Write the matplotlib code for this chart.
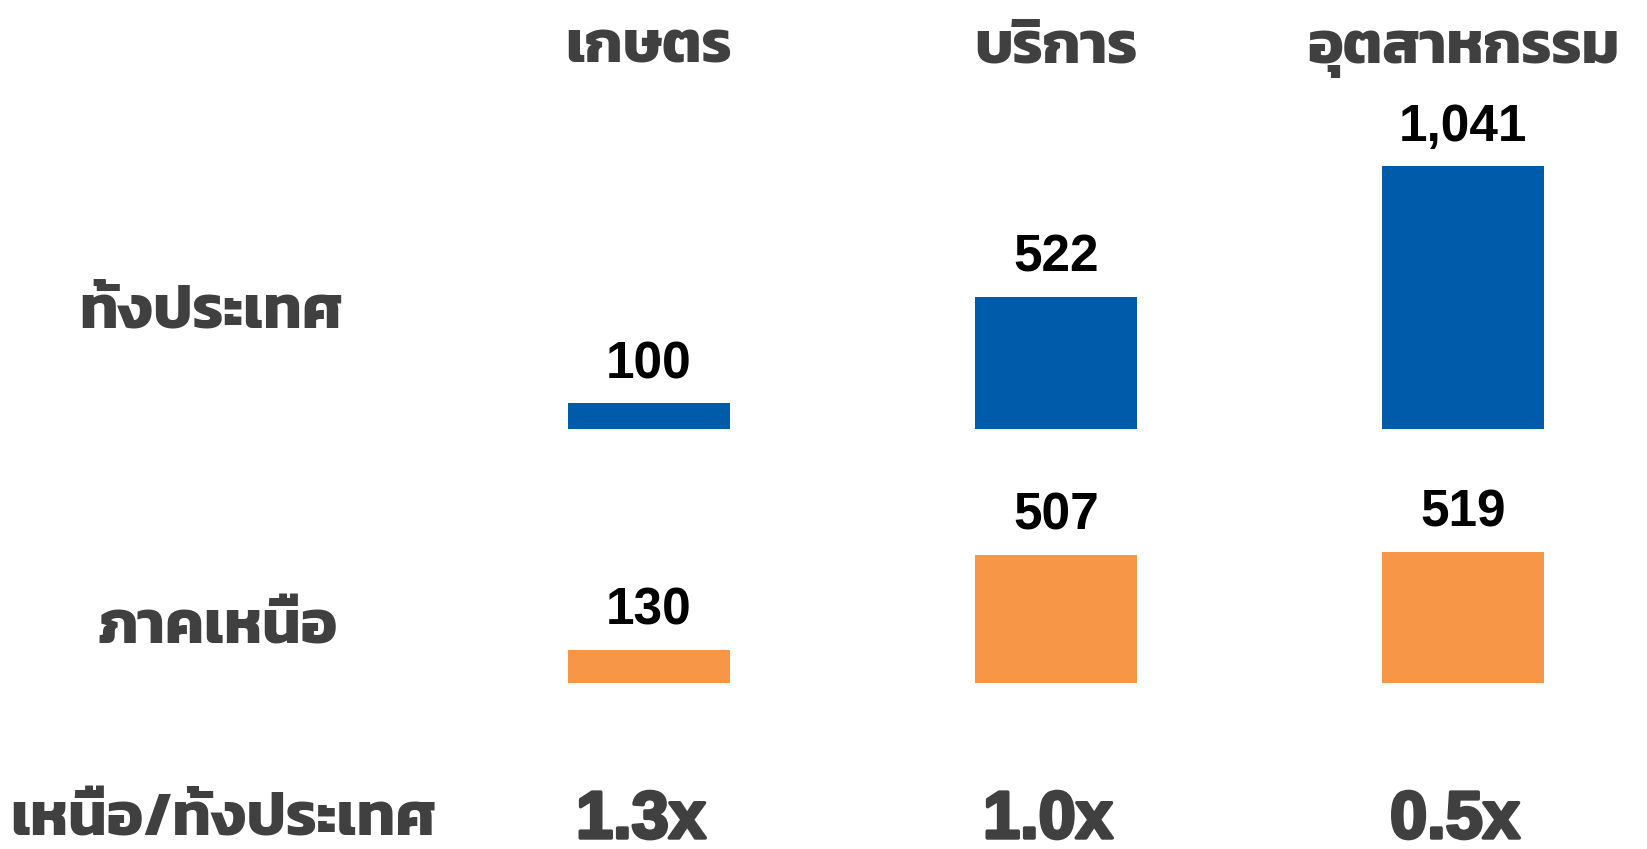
import matplotlib
matplotlib.use("Agg")
import matplotlib.pyplot as plt
import matplotlib.transforms as mtransforms
import matplotlib.patheffects as pe
from matplotlib.font_manager import FontProperties
import numpy as np

sectors = ["เกษตร", "บริการ", "อุตสาหกรรม"]
whole_country = [100, 522, 1041]
north = [130, 507, 519]
ratios = ["1.3x", "1.0x", "0.5x"]
row_labels = ["ทั้งประเทศ", "ภาคเหนือ", "เหนือ/ทั้งประเทศ"]

BLUE = "#005BAA"
ORANGE = "#F79646"
GREY = "#404040"
THAI = ["Kanit", "DejaVu Sans"]
NUM = ["Liberation Sans", "DejaVu Sans"]

x = np.arange(len(sectors))

fig = plt.figure(figsize=(16.47, 8.49), dpi=100)
ax_top = fig.add_axes([0.2705, 0.4952, 0.7166, 0.3273])
ax_bot = fig.add_axes([0.2705, 0.1958, 0.7166, 0.3273])

for ax, vals, col in [(ax_top, whole_country, BLUE), (ax_bot, north, ORANGE)]:
    ax.bar(x, vals, width=0.4, color=col)
    for xi, v in zip(x, vals):
        ax.annotate(f"{v:,}", (xi, v), xytext=(0, 18), textcoords="offset points",
                    ha="center", va="baseline", fontsize=37, fontweight="bold",
                    family=NUM, color="black")
    ax.set_xlim(-0.5, 2.4)
    ax.set_ylim(0, 1100)
    ax.axis("off")

# x in data, y in figure fraction
trans = mtransforms.blended_transform_factory(ax_top.transData, fig.transFigure)
ratio_font = FontProperties(family="Liberation Sans", weight="bold", size=48)

# sector names on top, ratios at the bottom
for xi, name, r in zip(x, sectors, ratios):
    ax_top.text(xi, 0.9258, name, transform=trans,
                ha="center", va="baseline", fontsize=43, fontweight="bold",
                family=THAI, color=GREY)
    ax_top.text(xi - 0.02, 0.013, r, transform=trans,
                ha="center", va="baseline", fontproperties=ratio_font, color=GREY,
                path_effects=[pe.withStroke(linewidth=2.5, foreground=GREY)])

# row labels on the left
for label, (lx, ly) in zip(row_labels, [(0.1284, 0.6137), (0.1318, 0.2426), (0.1357, 0.016)]):
    fig.text(lx, ly, label, ha="center", va="baseline", fontsize=44,
             fontweight="bold", family=THAI, color=GREY)

fig.savefig("out.png", dpi=100)
